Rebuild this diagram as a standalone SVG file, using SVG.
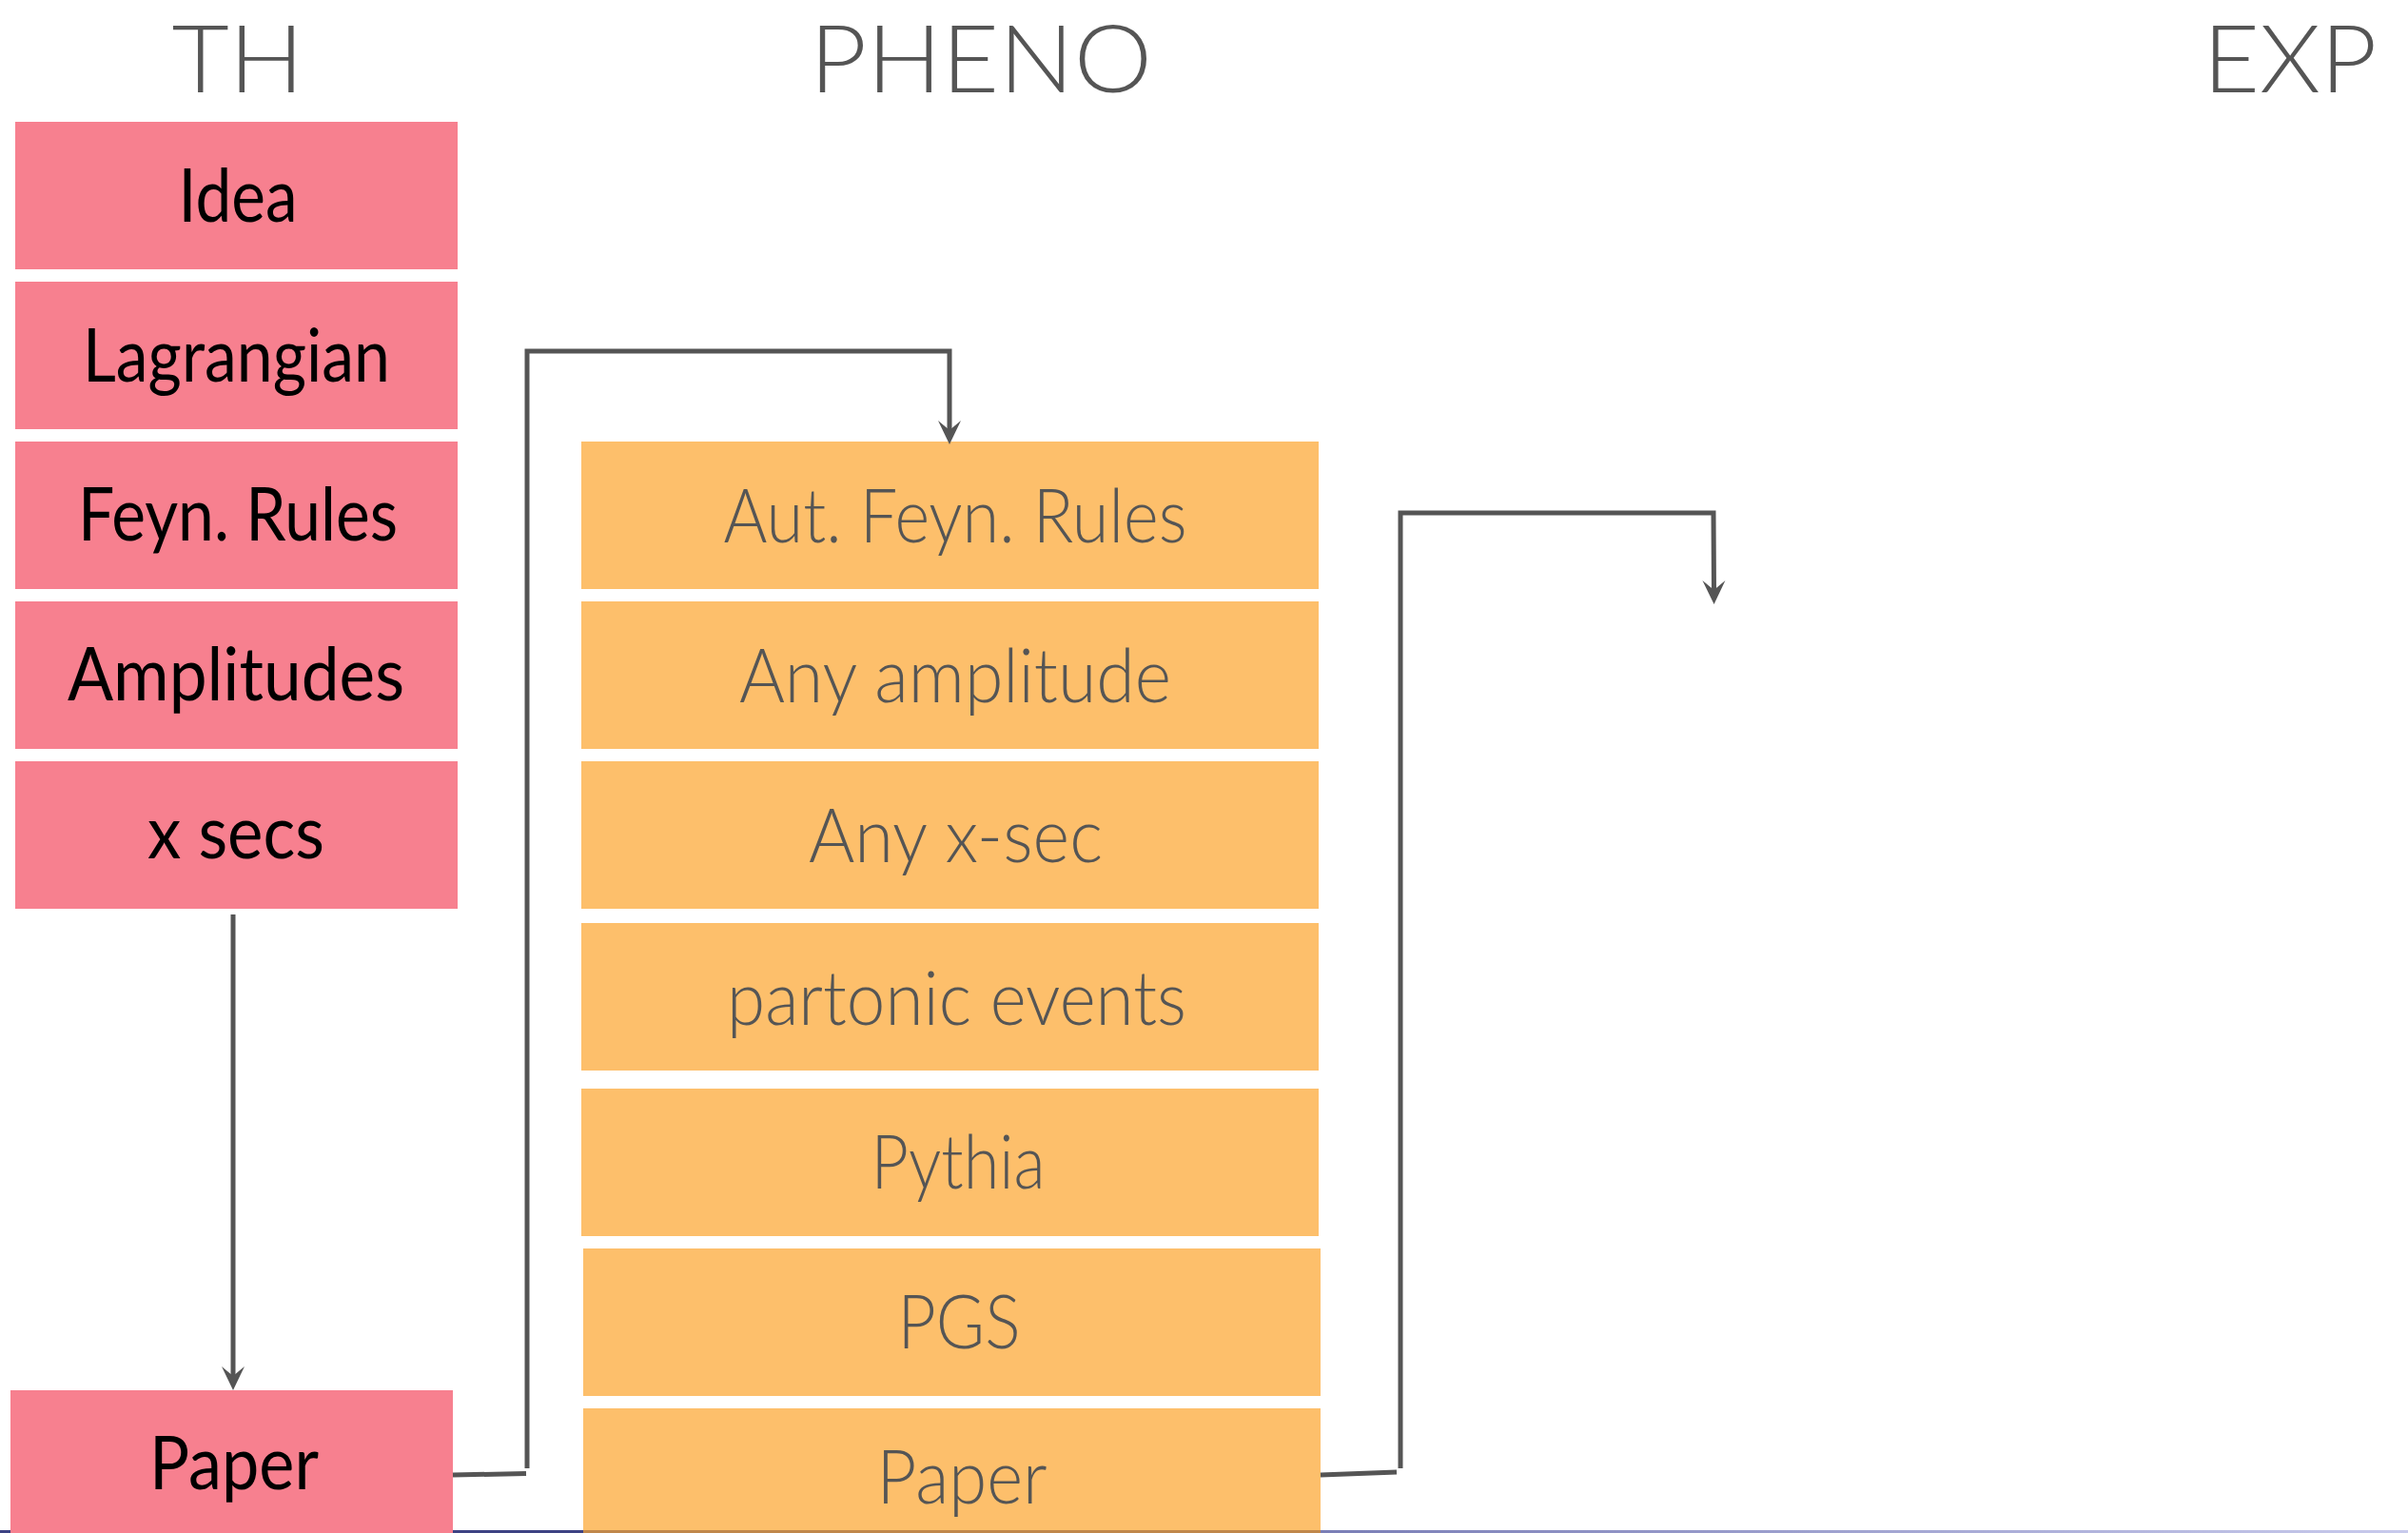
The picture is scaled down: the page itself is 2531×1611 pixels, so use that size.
<svg xmlns="http://www.w3.org/2000/svg" width="2531" height="1611" viewBox="0 0 2531 1611">
  <defs>
    <style>
      .th { fill: #F7808F; }
      .ph { fill: #FDBF6B; }
      .title { font-family: "Lato", "Open Sans", "Liberation Sans", sans-serif; font-weight: 300; font-size: 98px; fill: #555555; text-anchor: middle; }
      .lbl-th { font-family: "Lato", "Open Sans", "Liberation Sans", sans-serif; font-weight: 400; font-size: 78px; fill: #000000; text-anchor: middle; }
      .lbl-ph { font-family: "Lato", "Open Sans", "Liberation Sans", sans-serif; font-weight: 300; font-size: 78px; fill: #555555; text-anchor: middle; }
      .wire { fill: none; stroke: #555555; stroke-width: 5; stroke-linejoin: miter; }
    </style>
    <marker id="head" markerUnits="userSpaceOnUse" orient="auto" markerWidth="40" markerHeight="40" refX="0" refY="0" viewBox="-20 -20 40 40" overflow="visible">
      <path d="M13,0 L-12,-12 L-2,0 L-12,12 Z" fill="#555555"/>
    </marker>
    <linearGradient id="rule" gradientUnits="userSpaceOnUse" x1="1386" y1="0" x2="2531" y2="0">
      <stop offset="0" stop-color="#7A7EB6"/>
      <stop offset="1" stop-color="#C8CAEC"/>
    </linearGradient>
  </defs>

  <rect x="0" y="0" width="2531" height="1611" fill="#FFFFFF"/>

  <!-- slide footer rule -->
  <rect x="0" y="1608" width="1386" height="3" fill="#3D4283"/>
  <rect x="1386" y="1608" width="1145" height="3" fill="url(#rule)"/>

  <!-- column headings -->
  <text class="title" x="250" y="97" textLength="139" lengthAdjust="spacingAndGlyphs">TH</text>
  <text class="title" x="1031" y="97" textLength="360" lengthAdjust="spacingAndGlyphs">PHENO</text>
  <text class="title" x="2407" y="97" textLength="183" lengthAdjust="spacingAndGlyphs">EXP</text>

  <!-- theory column -->
  <g id="th-idea">
    <rect class="th" x="16" y="128" width="465" height="155"/>
    <text class="lbl-th" x="250" y="233" textLength="125" lengthAdjust="spacingAndGlyphs">Idea</text>
  </g>
  <g id="th-lagrangian">
    <rect class="th" x="16" y="296" width="465" height="155"/>
    <text class="lbl-th" x="248.5" y="401" textLength="323" lengthAdjust="spacingAndGlyphs">Lagrangian</text>
  </g>
  <g id="th-feynrules">
    <rect class="th" x="16" y="464" width="465" height="155"/>
    <text class="lbl-th" x="250" y="568" textLength="336" lengthAdjust="spacingAndGlyphs">Feyn. Rules</text>
  </g>
  <g id="th-amplitudes">
    <rect class="th" x="16" y="632" width="465" height="155"/>
    <text class="lbl-th" x="248" y="736" textLength="354" lengthAdjust="spacingAndGlyphs">Amplitudes</text>
  </g>
  <g id="th-xsecs">
    <rect class="th" x="16" y="800" width="465" height="155"/>
    <text class="lbl-th" x="248" y="902" textLength="186" lengthAdjust="spacingAndGlyphs">x secs</text>
  </g>
  <g id="th-paper">
    <rect class="th" x="11" y="1461" width="465" height="150"/>
    <text class="lbl-th" x="246" y="1565" textLength="178" lengthAdjust="spacingAndGlyphs">Paper</text>
  </g>

  <!-- phenomenology column -->
  <g id="ph-autfeynrules">
    <rect class="ph" x="611" y="464" width="775" height="155"/>
    <text class="lbl-ph" x="1004" y="570" textLength="487" lengthAdjust="spacingAndGlyphs">Aut. Feyn. Rules</text>
  </g>
  <g id="ph-anyamplitude">
    <rect class="ph" x="611" y="632" width="775" height="155"/>
    <text class="lbl-ph" x="1004" y="738" textLength="454" lengthAdjust="spacingAndGlyphs">Any amplitude</text>
  </g>
  <g id="ph-anyxsec">
    <rect class="ph" x="611" y="800" width="775" height="155"/>
    <text class="lbl-ph" x="1004.5" y="906" textLength="309" lengthAdjust="spacingAndGlyphs">Any x-sec</text>
  </g>
  <g id="ph-partonic">
    <rect class="ph" x="611" y="970" width="775" height="155"/>
    <text class="lbl-ph" x="1005.5" y="1077" textLength="483" lengthAdjust="spacingAndGlyphs">partonic events</text>
  </g>
  <g id="ph-pythia">
    <rect class="ph" x="611" y="1144" width="775" height="155"/>
    <text class="lbl-ph" x="1007" y="1249" textLength="183" lengthAdjust="spacingAndGlyphs">Pythia</text>
  </g>
  <g id="ph-pgs">
    <rect class="ph" x="613" y="1312" width="775" height="155"/>
    <text class="lbl-ph" x="1008" y="1417" textLength="129" lengthAdjust="spacingAndGlyphs">PGS</text>
  </g>
  <g id="ph-paper">
    <rect class="ph" x="613" y="1480" width="775" height="131"/>
    <rect x="613" y="1608" width="775" height="3" fill="#C0874A"/>
    <text class="lbl-ph" x="1011" y="1580" textLength="179" lengthAdjust="spacingAndGlyphs">Paper</text>
  </g>

  <!-- connectors -->
  <g id="connectors">
    <path class="wire" d="M245,961 L245,1448" marker-end="url(#head)"/>
    <path class="wire" d="M476,1550 L553,1548.5"/>
    <path class="wire" d="M554,1543 L554,369 L998,369 L998,454" marker-end="url(#head)"/>
    <path class="wire" d="M1388,1550 L1468,1547"/>
    <path class="wire" d="M1472,1543 L1472,539 L1801,539 L1801.5,622" marker-end="url(#head)"/>
  </g>
</svg>
